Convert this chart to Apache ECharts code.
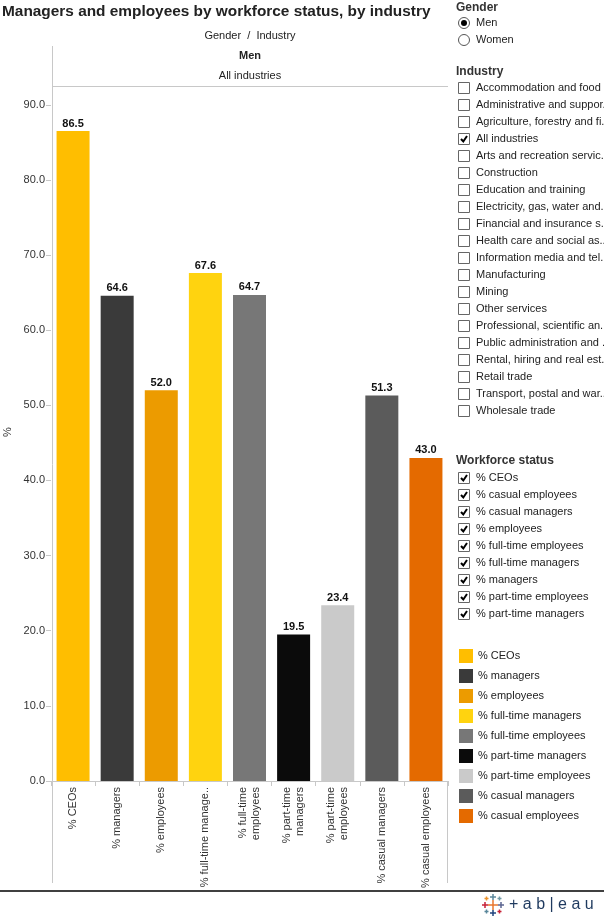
<!DOCTYPE html>
<html><head><meta charset="utf-8">
<script src="https://cdn.jsdelivr.net/npm/echarts@6/dist/echarts.min.js"></script>
<style>html,body{margin:0;padding:0;background:#fff}#c{width:604px;height:920px}</style>
</head><body><div id="c"></div>
<script>
const categories = ['% CEOs','% managers','% employees','% full-time managers','% full-time employees','% part-time managers','% part-time employees','% casual managers','% casual employees'];
const values = [86.5, 64.6, 52.0, 67.6, 64.7, 19.5, 23.4, 51.3, 43.0];
const barColors = ['#FFBE00','#3A3A3A','#EC9B00','#FFD30F','#777777','#0B0B0B','#CACACA','#5B5B5B','#E46A00'];
const xTickLabels = ['% CEOs','% managers','% employees','% full-time manage..','% full-time\nemployees','% part-time\nmanagers','% part-time\nemployees','% casual managers','% casual employees'];
const yTicks = [0,10,20,30,40,50,60,70,80,90];
const yAxisTitle = '%';
const genders = ['Men','Women'];
const selectedGender = 'Men';
const industries = ['Accommodation and food ..','Administrative and suppor..','Agriculture, forestry and fi..','All industries','Arts and recreation servic..','Construction','Education and training','Electricity, gas, water and..','Financial and insurance s..','Health care and social as..','Information media and tel..','Manufacturing','Mining','Other services','Professional, scientific an..','Public administration and ..','Rental, hiring and real est..','Retail trade','Transport, postal and war..','Wholesale trade'];
const selectedIndustry = 'All industries';
const statuses = ['% CEOs','% casual employees','% casual managers','% employees','% full-time employees','% full-time managers','% managers','% part-time employees','% part-time managers'];

const FONT = 'Liberation Sans, Arial, sans-serif';
const LINE = '#c8c8c8';
const chart = echarts.init(document.getElementById('c'));

const graphic = [];
function txt(x, y, s, opt, extra) {
  graphic.push(Object.assign({type:'text', x, y, style:Object.assign({text:s, fill:'#222', font:'11px ' + FONT, textVerticalAlign:'middle'}, opt||{})}, extra||{}));
}
function line(x1,y1,x2,y2,stroke,w){
  graphic.push({type:'line', shape:{x1,y1,x2,y2}, style:{stroke:stroke||LINE, lineWidth:w||1}});
}
function checkbox(cy, checked){
  graphic.push({type:'rect', shape:{x:458.5,y:cy-5.5,width:11,height:11}, style:{fill:'#fff', stroke:'#666', lineWidth:1}});
  if (checked) graphic.push({type:'polyline', shape:{points:[[461,cy],[463.3,cy+2.5],[467,cy-3]]}, style:{stroke:'#000', lineWidth:2, fill:null}});
}

// header
txt(250, 36, 'Gender  /  Industry', {textAlign:'center'});
txt(250, 56, 'Men', {textAlign:'center', font:'bold 11px ' + FONT});
txt(250, 76, 'All industries', {textAlign:'center'});
txt(8, 432, yAxisTitle, {textAlign:'center', fill:'#333'}, {rotation:Math.PI/2});
line(52.5, 46, 52.5, 883);
line(52, 86.5, 448, 86.5);
line(447.5, 781, 447.5, 883);
line(0, 891, 604, 891, '#000', 1.5);

// Gender panel
txt(456, 8, 'Gender', {font:'bold 12px ' + FONT, fill:'#333'});
genders.forEach((g, i) => {
  const cy = 23 + i*17;
  graphic.push({type:'circle', shape:{cx:464, cy, r:5.5}, style:{fill:'#fff', stroke:'#555', lineWidth:1}});
  if (g === selectedGender) graphic.push({type:'circle', shape:{cx:464, cy, r:3}, style:{fill:'#000'}});
  txt(476, cy, g);
});
// Industry panel
txt(456, 72, 'Industry', {font:'bold 12px ' + FONT, fill:'#333'});
industries.forEach((s, i) => {
  const cy = 88 + i*17;
  checkbox(cy, s === selectedIndustry);
  txt(476, cy, s);
});
// Workforce status panel
txt(456, 461, 'Workforce status', {font:'bold 12px ' + FONT, fill:'#333'});
statuses.forEach((s, i) => {
  const cy = 478 + i*17;
  checkbox(cy, true);
  txt(476, cy, s);
});

// tableau logo
const crosses = [[493,905,5,'#E8762D'],[493,897,3,'#5B879B'],[493,913,3,'#1F457E'],[485,905,3,'#C72037'],[501,905,3,'#5B6591'],[486.5,898.5,2,'#EB912B'],[499.5,898.5,2,'#7099A6'],[486.5,911.5,2,'#59879B'],[499.5,911.5,2,'#C72037']];
crosses.forEach(c => {
  line(c[0]-c[2], c[1], c[0]+c[2], c[1], c[3], 1.5);
  line(c[0], c[1]-c[2], c[0], c[1]+c[2], c[3], 1.5);
});
txt(509, 905, '+ a b | e a u', {font:'16px ' + FONT, fill:'#1F3A5F'});

const series = categories.map((name, i) => ({
  name, type:'bar', stack:'all', barWidth:33,
  itemStyle:{color:barColors[i]},
  label:{show:true, position:'top', distance:2, fontSize:11, fontWeight:'bold', color:'#111', fontFamily:FONT,
    formatter: p => Number(p.value).toFixed(1)},
  data: categories.map((c, j) => j === i ? values[i] : '-')
}));

chart.setOption({
  animation:false,
  title:{text:'Managers and employees by workforce status, by industry', left:2, top:4, padding:0,
    textStyle:{fontFamily:FONT, fontSize:15.4, fontWeight:'bold', color:'#222'}},
  grid:{left:51, top:86, width:397, bottom:139, containLabel:false, outerBoundsMode:'none'},
  legend:{orient:'vertical', left:459, top:649, padding:0, itemWidth:14, itemHeight:14, itemGap:6, icon:'rect',
    textStyle:{fontSize:11, color:'#222', fontFamily:FONT}, data:categories},
  xAxis:{type:'category', data:categories,
    axisLine:{lineStyle:{color:LINE}},
    axisTick:{show:true, length:5, lineStyle:{color:LINE}},
    axisLabel:{rotate:90, margin:6, fontSize:11, color:'#333', fontFamily:FONT, lineHeight:13,
      formatter:(v, i) => xTickLabels[i]}},
  yAxis:{type:'value', min:0, max:92.5, interval:10,
    axisLine:{show:false},
    axisTick:{show:true, length:5, lineStyle:{color:LINE}, customValues:yTicks},
    axisLabel:{margin:6, fontSize:11, color:'#333', fontFamily:FONT, customValues:yTicks,
      formatter: v => Number(v).toFixed(1)},
    splitLine:{show:false}},
  graphic:graphic,
  series:series
});
</script></body></html>
